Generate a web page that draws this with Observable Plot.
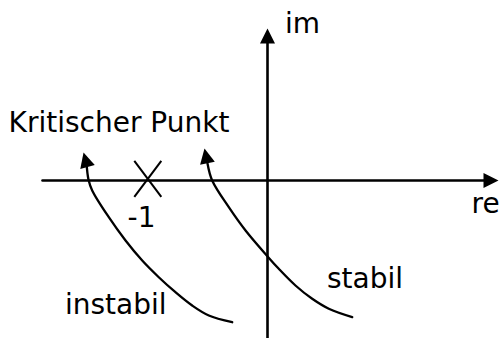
<!DOCTYPE html>
<html>
<head>
<meta charset="utf-8">
<script src="https://cdn.jsdelivr.net/npm/d3@7"></script>
<script src="https://cdn.jsdelivr.net/npm/@observablehq/plot@0.6"></script>
<style>
  html, body { margin: 0; padding: 0; background: #fff; }
  svg { display: block; }
</style>
</head>
<body>
<div id="chart"></div>
<script>
// Axis extents (real / imaginary), start and arrow tip
const reAxis = [-1.875, 1.925];
const imAxis = [-1.31, 1.267];

// Critical point -1
const criticalRe = -0.9975;
const criticalIm = 0.014;

// Curve "instabil": first point is the arrow tip
const instabilRe = [-1.533, -1.508, -1.492, -1.461, -1.3225, -1.183, -1.044, -0.906, -0.767, -0.6275, -0.489, -0.294];
const instabilIm = [0.233, 0.142, 0.008, -0.083, -0.306, -0.500, -0.667, -0.806, -0.931, -1.042, -1.125, -1.181];

// Curve "stabil": first point is the arrow tip
const stabilRe = [-0.525, -0.500, -0.461, -0.3225, -0.183, 0.006, 0.094, 0.233, 0.3725, 0.511, 0.706];
const stabilIm = [0.267, 0.142, 0.000, -0.2225, -0.417, -0.639, -0.736, -0.875, -0.986, -1.069, -1.139];

// Text labels
const labelText = ["Kritischer Punkt", "-1", "instabil", "stabil", "im", "re"];
const labelRe = [-2.158, -1.05, -1.6875, 0.496, 0.146, 1.70];
const labelIm = [0.402, -0.389, -1.111, -0.894, 1.233, -0.275];
const labelAnchor = ["start", "middle", "start", "start", "start", "start"];

// ---- build tables ----
const HEAD = 0.125, HALF = 0.0625;
function arrowHead(id, bx, by, tx, ty) {
  const dx = tx - bx, dy = ty - by, L = Math.hypot(dx, dy);
  const ux = dx / L, uy = dy / L;
  const baseX = tx - ux * HEAD, baseY = ty - uy * HEAD;
  const px = -uy, py = ux;
  return [
    {id, re: tx, im: ty},
    {id, re: baseX + px * HALF, im: baseY + py * HALF},
    {id, re: baseX - px * HALF, im: baseY - py * HALF}
  ];
}
function baseOf(bx, by, tx, ty) {
  const dx = tx - bx, dy = ty - by, L = Math.hypot(dx, dy);
  return [tx - dx / L * HEAD * 0.9, ty - dy / L * HEAD * 0.9];
}

const axes = [];
const reBase = baseOf(reAxis[0], 0, reAxis[1], 0);
axes.push({id: "re", re: reAxis[0], im: 0}, {id: "re", re: reBase[0], im: 0});
const imBase = baseOf(0, imAxis[0], 0, imAxis[1]);
axes.push({id: "im", re: 0, im: imAxis[0]}, {id: "im", re: 0, im: imBase[1]});

const curves = [];
instabilRe.forEach((r, i) => { if (i > 0) curves.push({id: "instabil", re: r, im: instabilIm[i]}); });
stabilRe.forEach((r, i) => { if (i > 0) curves.push({id: "stabil", re: r, im: stabilIm[i]}); });

const heads = [
  ...arrowHead("reHead", reAxis[0], 0, reAxis[1], 0),
  ...arrowHead("imHead", 0, imAxis[0], 0, imAxis[1]),
  ...arrowHead("iHead", instabilRe[1], instabilIm[1], instabilRe[0], instabilIm[0]),
  ...arrowHead("sHead", stabilRe[1], stabilIm[1], stabilRe[0], stabilIm[0])
];

const cw = 0.1125, ch = 0.15;
const cross = [
  {x1: criticalRe - cw, y1: criticalIm + ch, x2: criticalRe + cw, y2: criticalIm - ch},
  {x1: criticalRe + cw, y1: criticalIm + ch, x2: criticalRe - cw, y2: criticalIm - ch}
];

const labels = labelText.map((t, i) => ({text: t, re: labelRe[i], im: labelIm[i], anchor: labelAnchor[i]}));

const font = {fontFamily: "DejaVu Sans", fontSize: 28, fill: "#000", lineAnchor: "bottom"};

const chart = Plot.plot({
  width: 502,
  height: 338,
  margin: 0,
  x: {domain: [-2.225, 1.9583], axis: null},
  y: {domain: [-1.3167, 1.5], axis: null},
  style: {background: "#fff"},
  marks: [
    Plot.line(axes, {x: "re", y: "im", z: "id", stroke: "#000", strokeWidth: 2.6}),
    Plot.line(curves, {x: "re", y: "im", z: "id", stroke: "#000", strokeWidth: 2.3, curve: "catmull-rom"}),
    Plot.line(heads, {x: "re", y: "im", z: "id", fill: "#000", stroke: "none"}),
    Plot.link(cross, {x1: "x1", y1: "y1", x2: "x2", y2: "y2", stroke: "#000", strokeWidth: 2}),
    Plot.text(labels.filter(d => d.anchor === "start"), {x: "re", y: "im", text: "text", textAnchor: "start", ...font}),
    Plot.text(labels.filter(d => d.anchor === "middle"), {x: "re", y: "im", text: "text", textAnchor: "middle", ...font})
  ]
});
document.getElementById("chart").appendChild(chart);
</script>
</body>
</html>
